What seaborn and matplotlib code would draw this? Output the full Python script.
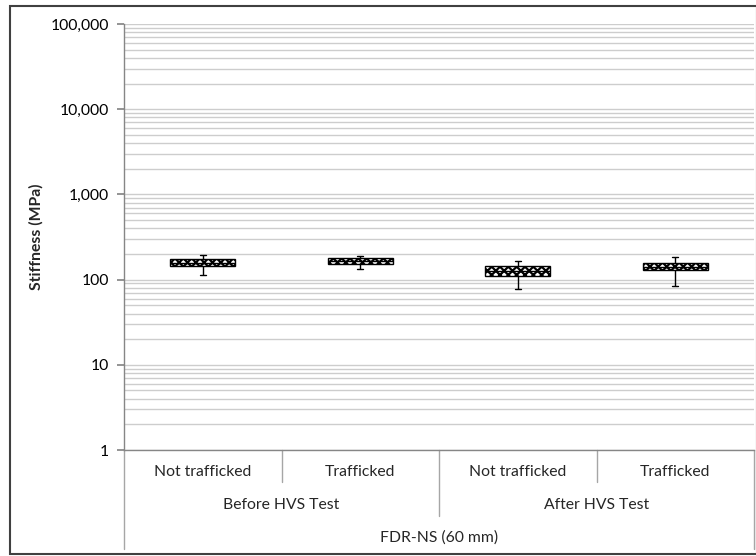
import matplotlib
matplotlib.use("Agg")
import matplotlib.pyplot as plt
import matplotlib.ticker as mticker
from matplotlib.patches import Rectangle
import seaborn as sns
import pandas as pd

# ---- data ----
periods = ["Before HVS Test", "Before HVS Test", "After HVS Test", "After HVS Test"]
conditions = ["Not trafficked", "Trafficked", "Not trafficked", "Trafficked"]
group_label = "FDR-NS (60 mm)"
# five-number summaries: min, q1, median, q3, max (MPa)
before_not_trafficked = [112, 146, 157, 175, 196]
before_trafficked = [133, 152, 165, 178, 189]
after_not_trafficked = [77, 110, 125, 144, 164]
after_trafficked = [83, 130, 142, 158, 186]
y_ticks = [1, 10, 100, 1000, 10000, 100000]

series = [before_not_trafficked, before_trafficked, after_not_trafficked, after_trafficked]
keys = [f"{p}|{c}" for p, c in zip(periods, conditions)]
rows = []
for k, vals in zip(keys, series):
    for v in vals:
        rows.append({"key": k, "Stiffness": v})
df = pd.DataFrame(rows)

sns.set_theme(style="white")
plt.rcParams["font.family"] = ["Lato", "DejaVu Sans"]
plt.rcParams["hatch.linewidth"] = 1.6

W, H = 756, 556
fig = plt.figure(figsize=(W / 100, H / 100), dpi=100)
left, right, top, bottom = 124, 754, 24, 450
ax = fig.add_axes([left / W, (H - bottom) / H, (right - left) / W, (bottom - top) / H])

sns.boxplot(data=df, x="key", y="Stiffness", order=keys, ax=ax, whis=(0, 100),
            width=0.41, log_scale=True, color="white", linecolor="black", linewidth=1,
            showfliers=False, capwidths=0.04)

for patch in ax.patches:
    patch.set_hatch("xxxx")
    patch.set_facecolor("white")
    patch.set_edgecolor("black")

FS = 11.3
ax.set_ylim(1, 100000)
ax.set_xlim(-0.5, 3.5)
ax.yaxis.set_major_locator(mticker.FixedLocator(y_ticks))
ax.yaxis.set_minor_locator(mticker.LogLocator(base=10, subs=range(2, 10), numticks=50))
ax.yaxis.set_minor_formatter(mticker.NullFormatter())
ax.yaxis.set_major_formatter(mticker.FuncFormatter(lambda v, p: f"{v:,.0f}"))
ax.grid(True, axis="y", which="both", color="#cdcdcd", linewidth=1)
ax.set_axisbelow(True)
ax.tick_params(axis="y", which="major", length=5, color="#868686", labelsize=FS,
               left=True, pad=6, labelcolor="black")
ax.tick_params(axis="y", which="minor", length=0)
ax.tick_params(axis="x", length=0, labelbottom=False)
ax.set_xlabel("")
ax.set_ylabel("Stiffness (MPa)", fontsize=FS, fontweight="bold", labelpad=5)
for s in ["top", "right"]:
    ax.spines[s].set_visible(False)
for s in ["left", "bottom"]:
    ax.spines[s].set_color("#868686")
    ax.spines[s].set_linewidth(1)

# multi-level category axis
tr = ax.get_xaxis_transform()
ah = bottom - top
def fy(px):
    return -px / ah

sep_kw = dict(color="#a6a6a6", linewidth=1, clip_on=False, transform=tr)
for xe in [-0.5, 3.5]:
    ax.plot([xe, xe], [0, fy(99)], **sep_kw)
for xe in [0.5, 2.5]:
    ax.plot([xe, xe], [0, fy(32)], **sep_kw)
ax.plot([1.5, 1.5], [0, fy(66)], **sep_kw)

for i, c in enumerate(conditions):
    ax.text(i, fy(22), c, transform=tr, ha="center", va="center", fontsize=FS)
for xc, p in [(0.5, periods[0]), (2.5, periods[2])]:
    ax.text(xc, fy(55), p, transform=tr, ha="center", va="center", fontsize=FS)
ax.text(1.5, fy(88), group_label, transform=tr, ha="center", va="center", fontsize=FS)

# outer chart border
fig.patches.append(Rectangle((10 / W, 2 / H), (W - 9) / W, (H - 8) / H,
                             transform=fig.transFigure, fill=False,
                             edgecolor="#404040", linewidth=1.5))

fig.savefig("out.png", dpi=100)
